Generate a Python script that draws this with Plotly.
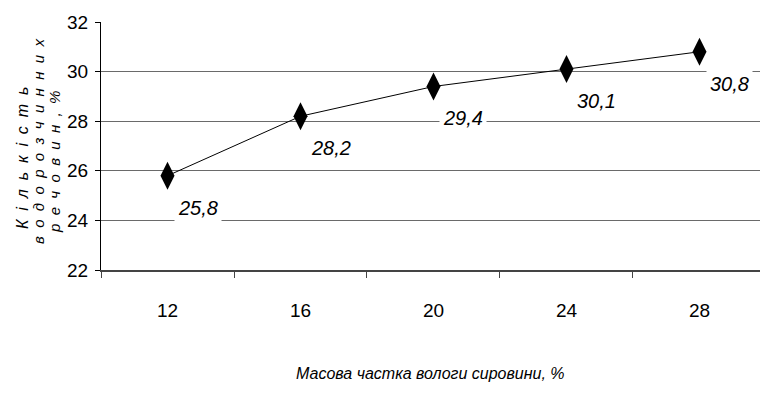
import plotly.graph_objects as go

categories = ["12", "16", "20", "24", "28"]
values = [25.8, 28.2, 29.4, 30.1, 30.8]
value_labels = ["25,8", "28,2", "29,4", "30,1", "30,8"]
y_ticks = [22, 24, 26, 28, 30, 32]

FONT = "Liberation Sans, Arial, sans-serif"

W, H = 760, 399
L, T, B = 101, 22, 129
PW, PH = W - L, H - T - B

xi = list(range(len(categories)))

fig = go.Figure()
fig.add_trace(go.Scatter(
    x=xi, y=values, mode="lines+markers",
    line=dict(color="black", width=1),
    marker=dict(symbol="diamond-tall", size=20, color="black"),
    showlegend=False, cliponaxis=False, hoverinfo="skip",
))

for i, v, t in zip(xi, values, value_labels):
    fig.add_annotation(x=i, y=v, xref="x", yref="y", text=t, showarrow=False,
                       xshift=30, yshift=-32, bgcolor="white", borderpad=3,
                       font=dict(family=FONT, size=20, color="black", style="italic"))

# y-axis title (spaced letters, three rotated lines)
ytitle_lines = [
    ("Кількість", 22, 158, 16),
    ("водорозчинних", 38, 142, 15),
    ("речовин,%", 54, 162, 15),
]
for txt, px, py, fs in ytitle_lines:
    spaced = "\u00a0\u00a0".join(list(txt))
    fig.add_annotation(x=(px - L) / PW, y=(270 - py) / PH, xref="paper", yref="paper",
                       text=spaced, showarrow=False, textangle=-90,
                       xanchor="center", yanchor="middle",
                       font=dict(family=FONT, size=fs, color="black", style="italic"))

fig.add_annotation(x=(430 - L) / PW, y=(270 - 373) / PH, xref="paper", yref="paper",
                   text="Масова частка вологи сировини, %", showarrow=False,
                   xanchor="center", yanchor="middle",
                   font=dict(family=FONT, size=16, color="black", style="italic"))

fig.update_layout(
    width=W, height=H, autosize=False,
    margin=dict(l=L, r=0, t=T, b=B, pad=0, autoexpand=False),
    paper_bgcolor="white", plot_bgcolor="white",
    font=dict(family=FONT, color="black"),
    hovermode=False,
    xaxis=dict(type="linear", range=[-0.5, 4.455],
               tickvals=xi, ticktext=categories, ticks="",
               showline=True, linecolor="#444", linewidth=2,
               showgrid=False, zeroline=False, tickfont=dict(size=19),
               ticklabelstandoff=22),
    xaxis2=dict(overlaying="x", matches="x", anchor="y", side="bottom",
                range=[-0.5, 4.455], tickvals=[i - 0.5 for i in range(6)],
                ticktext=[""] * 6, ticks="outside", ticklen=7,
                tickcolor="#444", tickwidth=1, showgrid=False, zeroline=False,
                showline=False),
    yaxis=dict(range=[22, 32], tickvals=y_ticks, ticktext=[str(v) for v in y_ticks],
               showline=True, linecolor="black", linewidth=1,
               ticks="outside", ticklen=5, tickcolor="black",
               showgrid=True, gridcolor="#6a6a6a", gridwidth=1,
               zeroline=False, tickfont=dict(size=19), ticklabelstandoff=3),
)
# invisible helper trace so the boundary-tick axis is drawn
fig.add_trace(go.Scatter(x=[None], y=[None], xaxis="x2", showlegend=False,
                         hoverinfo="skip"))

fig.write_html(
    "out.html",
    config={"displayModeBar": False},
    post_script="document.body.style.margin='0';document.body.style.overflow='hidden';",
)
